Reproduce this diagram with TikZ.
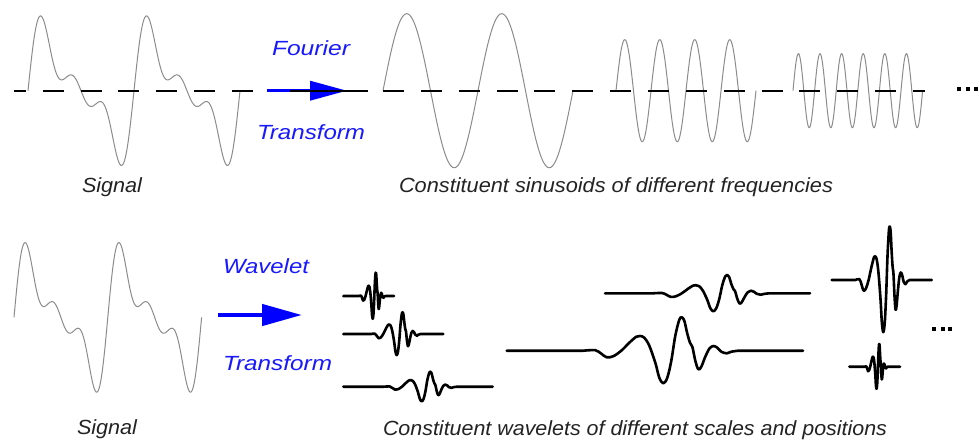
\documentclass[tikz,border=0pt]{standalone}
\usepackage{fontspec}
\setmainfont{Liberation Sans}
\usepackage{graphicx}
\usetikzlibrary{arrows.meta}
\definecolor{sigcol}{RGB}{140,140,140}
\definecolor{txtblue}{RGB}{25,25,255}
\definecolor{arrblue}{RGB}{0,0,255}
\definecolor{txtdark}{RGB}{35,35,35}
% wavelet: centre x, baseline y, xscale, yscale, start x, end x
\newcommand\wvlt[6]{%
  \begin{scope}[shift={(#1,#2)}, xscale=#3, yscale=-#4]
    \draw[wav] ({(#5-#1)/#3},0) -- plot[smooth, tension=0.55] coordinates {
      (-80,0) (-68,0.5) (-62,-3) (-56.6,-6.6) (-50,-5.5) (-42,0) (-34,8) (-27,14)
      (-23.3,14.7) (-19,13) (-14,5) (-8,-12) (-4,-27) (0,-32.6) (4,-27) (8,-10)
      (12,15) (16,31) (18.4,33.4) (21,30) (24,17) (26.7,8) (29,4) (32,-10)
      (35,-18.6) (38,-16) (42,-6) (46,2) (50,4.7) (54,3) (58,-1) (63.4,-2.6)
      (68,-1) (75,0)} -- ({(#6-#1)/#3},0);
  \end{scope}}
\begin{document}
\begin{tikzpicture}[x=1pt, y=-1pt,
  sig/.style={draw=sigcol, line width=1pt, line join=round},
  baseln/.style={draw=black, line width=2.2pt},
  wav/.style={draw=black, line width=2.6pt, line join=round, line cap=round},
  fourierarrow/.style={draw=arrblue, line width=3.5pt, -{Triangle[length=37pt, width=19pt]}},
  waveletarrow/.style={draw=arrblue, line width=4.5pt, -{Triangle[length=40pt, width=21pt]}},
  lab/.style={inner sep=0pt, outer sep=0pt, anchor=base west,
    font=\fontsize{20.5}{22}\selectfont\itshape},
  bluelab/.style={lab, text=txtblue},
  darklab/.style={lab, text=txtdark}]
\fill[white] (0,0) rectangle (979,442);
\useasboundingbox (0,0) rectangle (979,442);

% ---------- top row ----------
\draw[sig] plot[domain=0:720, samples=241]
  ({28+\x/360*106}, {90.7-(43*sin(\x)+30*sin(2*\x)+20*sin(3*\x))});
\draw[sig] plot[domain=0:720, samples=241] ({383+\x/360*95}, {90.7-77*sin(\x)});
\draw[sig] plot[domain=0:1440, samples=321] ({616+\x/360*35}, {90.7-51*sin(\x)});
\draw[sig] plot[domain=0:2160, samples=433] ({793+\x/360*21.6}, {90.7-37*sin(\x)});

\coordinate (dl0) at (14,90.7);  \coordinate (dl1) at (253,90.7);
\coordinate (dr0) at (383,90.7); \coordinate (dr1) at (925,90.7);
\draw[baseln, dash pattern=on 21pt off 16.86pt, dash phase=9.2pt] (dl0) -- (dl1);
\draw[baseln, dash pattern=on 21pt off 16.86pt] (dr0) -- (dr1);

\coordinate (fa0) at (267,90.7); \coordinate (fa1) at (347,90.7);
\draw[fourierarrow] (fa0) -- (fa1);
\coordinate (fb0) at (290,90.7); \coordinate (fb1) at (368,90.7);
\draw[baseln] (fb0) -- (fb1);

\foreach \d in {957,965.5,974} \fill[black] (\d,87.3) rectangle ++(4,4);

\node[bluelab] (fourier) at (272,55) {\resizebox{78pt}{\height}{Fourier}};
\node[bluelab] (transf1) at (257,139.5) {\resizebox{108pt}{\height}{Transform}};
\node[darklab] (sig1) at (82,192) {\resizebox{60pt}{\height}{Signal}};
\node[darklab] (const1) at (399,192) {\resizebox{434pt}{\height}{Constituent sinusoids of different frequencies}};

% ---------- bottom row ----------
\draw[sig] plot[domain=0:720, samples=241]
  ({14+\x/360*93.8}, {317.4-(43*sin(\x)+30*sin(2*\x)+20*sin(3*\x))});

\coordinate (wa0) at (218,315); \coordinate (wa1) at (302,315);
\draw[waveletarrow] (wa0) -- (wa1);

\wvlt{663.3}{350.7}{1}{1}{506.7}{803}
\wvlt{713.3}{293.3}{0.75}{0.55}{605}{810}
\wvlt{372.7}{296}{0.17}{0.7}{343.3}{394}
\wvlt{396.7}{334}{0.32}{0.65}{343.3}{443.3}
\wvlt{421.7}{386.7}{0.47}{0.45}{343.3}{492.7}
\wvlt{883.3}{280}{0.35}{1.6}{831.7}{931.7}
\wvlt{876.5}{366.7}{0.15}{0.68}{849.3}{900}

\foreach \d in {932,940.5,948} \fill[black] (\d,326.7) rectangle ++(4,4);

\node[bluelab] (wavelet) at (223,273) {\resizebox{86pt}{\height}{Wavelet}};
\node[bluelab] (transf2) at (223,370) {\resizebox{109pt}{\height}{Transform}};
\node[darklab] (sig2) at (77,434) {\resizebox{60pt}{\height}{Signal}};
\node[darklab] (const2) at (383,435) {\resizebox{504pt}{\height}{Constituent wavelets of different scales and positions}};
\end{tikzpicture}
\end{document}
